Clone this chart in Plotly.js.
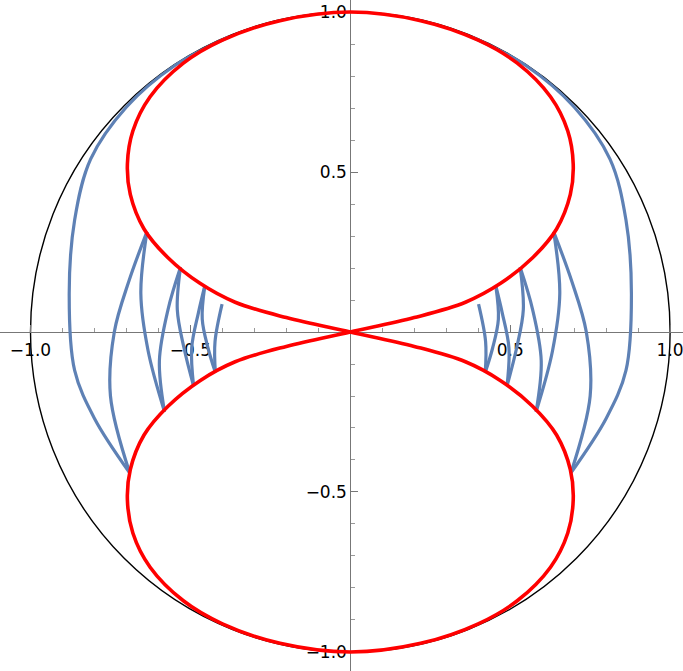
<!DOCTYPE html>
<html>
<head>
<meta charset="utf-8">
<script src="https://cdn.plot.ly/plotly-3.0.1.min.js"></script>
<style>html,body{margin:0;padding:0;background:#fff;}#chart{width:683px;height:671px;}</style>
</head>
<body>
<div id="chart"></div>
<script>
// Red figure-eight curve: origin -> top oval -> origin -> bottom oval -> origin
const redX = [0, 0.2, 0.36, 0.47, 0.57, 0.645, 0.688, 0.697, 0.68, 0.626, 0.522, 0.40, 0.22, 0,
  -0.22, -0.40, -0.522, -0.626, -0.68, -0.697, -0.688, -0.645, -0.57, -0.47, -0.36, -0.2, 0,
  0.2, 0.36, 0.47, 0.57, 0.645, 0.688, 0.697, 0.68, 0.626, 0.522, 0.40, 0.22, 0,
  -0.22, -0.40, -0.522, -0.626, -0.68, -0.697, -0.688, -0.645, -0.57, -0.47, -0.36, -0.2, 0];
const redY = [0, 0.045, 0.093, 0.152, 0.232, 0.322, 0.43, 0.525, 0.628, 0.735, 0.84, 0.912, 0.973, 1,
  0.973, 0.912, 0.84, 0.735, 0.628, 0.525, 0.43, 0.322, 0.232, 0.152, 0.093, 0.045, 0,
  -0.045, -0.093, -0.152, -0.232, -0.322, -0.43, -0.525, -0.628, -0.735, -0.84, -0.912, -0.973, -1,
  -0.973, -0.912, -0.84, -0.735, -0.628, -0.525, -0.43, -0.322, -0.232, -0.152, -0.093, -0.045, 0];

// Blue bouncing trajectories, one arc per segment (null separates arcs)
const rightX = [0.38, 0.55, 0.70, 0.812, 0.862, 0.879, 0.862, 0.80, 0.690, null,
  0.690, 0.750, 0.738, 0.692, 0.636, null,
  0.636, 0.655, 0.632, 0.581, null,
  0.581, 0.597, 0.570, 0.531, null,
  0.531, 0.541, 0.520, 0.490, null,
  0.490, 0.496, 0.475, 0.455, null,
  0.455, 0.463, 0.445, 0.422, null,
  0.422, 0.423, 0.401];
const rightY = [0.922, 0.832, 0.703, 0.54, 0.35, 0.12, -0.12, -0.27, -0.44, null,
  -0.44, -0.2, 0.0, 0.16, 0.313, null,
  0.313, 0.12, -0.06, -0.249, null,
  -0.249, -0.09, 0.07, 0.202, null,
  0.202, 0.07, -0.05, -0.169, null,
  -0.169, -0.05, 0.06, 0.144, null,
  0.144, 0.04, -0.05, -0.126, null,
  -0.126, -0.03, 0.087];
const leftX = [-0.38, -0.55, -0.70, -0.812, -0.862, -0.879, -0.862, -0.80, -0.690, null,
  -0.690, -0.750, -0.738, -0.692, -0.636, null,
  -0.636, -0.655, -0.632, -0.581, null,
  -0.581, -0.597, -0.570, -0.531, null,
  -0.531, -0.541, -0.520, -0.490, null,
  -0.490, -0.496, -0.475, -0.455, null,
  -0.455, -0.463, -0.445, -0.422, null,
  -0.422, -0.423, -0.401];
const leftY = [0.922, 0.832, 0.703, 0.54, 0.35, 0.12, -0.12, -0.27, -0.44, null,
  -0.44, -0.2, 0.0, 0.16, 0.313, null,
  0.313, 0.12, -0.06, -0.249, null,
  -0.249, -0.09, 0.07, 0.202, null,
  0.202, 0.07, -0.05, -0.169, null,
  -0.169, -0.05, 0.06, 0.144, null,
  0.144, 0.04, -0.05, -0.126, null,
  -0.126, -0.03, 0.087];

const tickVals = [-1, -0.5, 0.5, 1];
const tickText = ['\u22121.0', '\u22120.5', '0.5', '1.0'];
const minorVals = [-0.9, -0.8, -0.7, -0.6, -0.4, -0.3, -0.2, -0.1, 0.1, 0.2, 0.3, 0.4, 0.6, 0.7, 0.8, 0.9];

const blue = '#5E81B5';
const traces = [
  {x: leftX, y: leftY, mode: 'lines', line: {color: blue, width: 3.2, shape: 'spline', smoothing: 1}, connectgaps: false, hoverinfo: 'skip'},
  {x: rightX, y: rightY, mode: 'lines', line: {color: blue, width: 3.2, shape: 'spline', smoothing: 1}, connectgaps: false, hoverinfo: 'skip'},
  {x: redX, y: redY, mode: 'lines', line: {color: '#FF0000', width: 3.6, shape: 'spline', smoothing: 1}, hoverinfo: 'skip'}
];

const xr = [-1.0954, 1.0403];
const yr = [-1.0594, 1.0375];
const axFont = {family: 'DejaVu Sans, sans-serif', size: 17, color: '#000'};
const layout = {
  width: 683, height: 671,
  margin: {l: 0, r: 0, t: 0, b: 0, pad: 0},
  paper_bgcolor: '#fff', plot_bgcolor: '#fff',
  showlegend: false,
  xaxis: {
    range: xr, anchor: 'free', position: (0 - yr[0]) / (yr[1] - yr[0]),
    showgrid: false, zeroline: false, showline: true, linecolor: '#777', linewidth: 1,
    ticks: 'inside', ticklen: 7, tickcolor: '#777', tickwidth: 1,
    tickmode: 'array', tickvals: tickVals, ticktext: tickText, tickfont: axFont,
    ticklabeloverflow: 'allow', ticklabelstandoff: 3,
    minor: {tickmode: 'array', tickvals: minorVals, ticks: 'inside', ticklen: 4, tickcolor: '#999', tickwidth: 1},
    layer: 'below traces', fixedrange: true
  },
  yaxis: {
    range: yr, anchor: 'free', position: (0 - xr[0]) / (xr[1] - xr[0]),
    showgrid: false, zeroline: false, showline: true, linecolor: '#777', linewidth: 1,
    ticks: 'inside', ticklen: 7, tickcolor: '#777', tickwidth: 1,
    tickmode: 'array', tickvals: tickVals, ticktext: tickText, tickfont: axFont,
    ticklabeloverflow: 'allow',
    minor: {tickmode: 'array', tickvals: minorVals, ticks: 'inside', ticklen: 4, tickcolor: '#999', tickwidth: 1},
    layer: 'below traces', fixedrange: true
  },
  shapes: [
    {type: 'circle', xref: 'x', yref: 'y', x0: -1, x1: 1, y0: -1, y1: 1, line: {color: '#000', width: 1.4}, layer: 'below'}
  ]
};
Plotly.newPlot('chart', traces, layout, {staticPlot: true, displayModeBar: false});
</script>
</body>
</html>
